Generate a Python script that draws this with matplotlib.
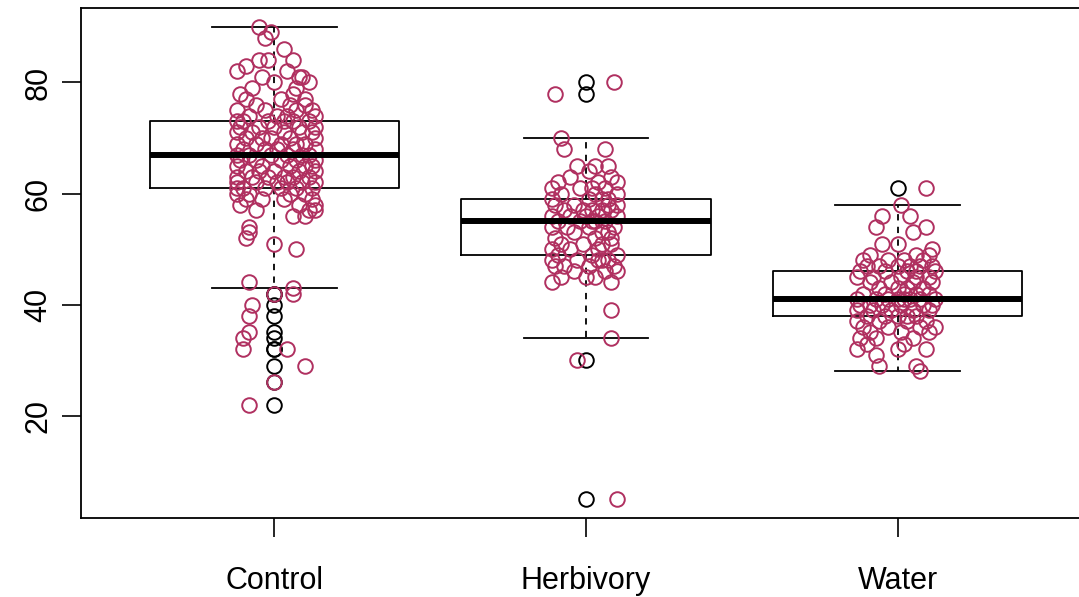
import math
import numpy as np
import matplotlib
matplotlib.use("Agg")
import matplotlib.pyplot as plt

groups = ["Control", "Herbivory", "Water"]

control_y = [90, 89, 88, 86, 84, 84, 84, 83, 82, 82, 81, 81, 81, 80, 80, 79, 79, 78, 78,
             77, 77, 77, 76, 76, 76, 75, 75, 75, 75, 74, 74, 74, 74,
             73, 73, 73, 73, 73, 73, 72, 72, 72, 72, 72, 71, 71, 71, 71, 71,
             70, 70, 70, 70, 70, 69, 69, 69, 69, 69, 68, 68, 68, 68, 68,
             67, 67, 67, 67, 67, 67, 66, 66, 66, 66, 66, 65, 65, 65, 65, 65,
             64, 64, 64, 64, 64, 63, 63, 63, 63, 63, 63, 62, 62, 62, 62, 62, 62,
             61, 61, 61, 61, 61, 61, 60, 60, 60, 60, 59, 59, 59, 59, 58, 58, 58,
             57, 57, 57, 56, 56, 54, 53, 52, 51, 50, 44, 43, 42, 42, 40, 38, 35, 34,
             32, 32, 29, 26, 22]
control_dx = [-5, -1, -3, 3, 6, -2, -5, -9, 4, -12, 9, 8, -4, 0, 11, 7, -7, 6, -11,
              -9, 10, 2, 10, -6, 5, -3, 12, 7, -12, 1, -8, 13, 4,
              -10, 6, -2, 11, 3, -12, 8, -5, 13, 0, -11, -7, 12, 3, -12, 9,
              5, -1, -9, 13, -4, 10, -12, 2, 7, -6, -3, 13, -10, 6, 1,
              -8, 11, 4, -12, 9, -1, 13, -6, 2, -11, 7, -4, 10, -12, 5, 12,
              0, -9, 8, 13, -5, -12, 3, 11, -2, 6, -7, 9, -12, 1, 13, -6, 4,
              -10, 7, -3, 12, -12, 2, -12, 10, 5, -8, -9, 3, 12, -4, -11, 8, 13,
              -6, 11, 13, 10, 6, -8, -8, -9, 0, 7, -8, 6, 6, 0, -7, -8, -8, -10,
              -10, 4, 10, 0, -8]

herb_y = [80, 78, 70, 68, 68, 65, 65, 65, 64, 63, 63, 62, 62, 62, 61, 61, 61, 61,
          60, 60, 60, 59, 59, 59, 59, 58, 58, 58, 58, 57, 57, 57, 57, 57,
          56, 56, 56, 56, 56, 55, 55, 55, 55, 55, 54, 54, 54, 54, 53, 53, 53,
          52, 52, 52, 51, 51, 51, 51, 50, 50, 50, 49, 49, 49,
          48, 48, 48, 48, 48, 47, 47, 47, 47, 46, 46, 46, 45, 45, 45, 44, 44,
          39, 34, 30, 5]
herb_dx = [9, -10, -8, -7, 6, -3, 3, 7, 1, 8, -5, -9, 4, 10, -11, -2, 6, 2,
           -8, 3, 10, 5, -11, 1, 7, -4, 10, -10, 7, 2, -7, 5, -1, 8,
           -11, 4, 10, -5, 0, 6, -9, 2, -2, 3, -6, 9, -11, 1, 5, -4, 7,
           -10, 3, 8, -1, 8, -8, 5, 4, -5, -11, 2, -9, 10,
           7, -3, 5, -11, 4, -7, 9, 1, -10, 6, -4, 10, -8, 3, 0, 8, -11,
           8, 8, -3, 10]

water_y = [61, 58, 56, 56, 54, 54, 53, 51, 51, 50, 49, 49, 49, 48, 48, 48, 48,
           47, 47, 47, 47, 47, 47, 46, 46, 46, 46, 46, 45, 45, 45, 45, 45,
           44, 44, 44, 44, 43, 43, 43, 43, 42, 42, 42, 42, 42,
           41, 41, 41, 41, 41, 41, 41, 41, 40, 40, 40, 40, 40, 40,
           39, 39, 39, 39, 39, 38, 38, 38, 38, 38, 37, 37, 37, 37,
           36, 36, 36, 36, 35, 35, 35, 34, 34, 34, 33, 33, 32, 32, 32, 31,
           29, 29, 28]
water_dx = [9, 1, -5, 4, -7, 9, 5, -5, 0, 11, 6, -9, 10, -3, 8, -11, 2,
            -10, 4, 11, -6, 0, 7, 3, -12, 6, -4, 12, -8, 6, 1, -13, 10,
            11, -2, -9, 5, -6, 8, 0, 3, 2, -11, 10, -4, 6,
            -13, 4, -7, 12, 0, 2, -3, 7, 8, -12, 1, -5, 11, -9,
            -2, 10, -13, 5, -8, 6, -10, 3, 0, -4, 9, -13, 3, -6,
            -11, 7, 12, -3, 1, -9, 10, -12, 5, -7, -10, 2, -13, 9, 0, -7,
            -6, 6, 7]

data_y = [control_y, herb_y, water_y]
data_dx = [control_dx, herb_dx, water_dx]


def fivenum(vals):
    x = np.sort(np.asarray(vals, dtype=float))
    n = len(x)
    n4 = math.floor((n + 3) / 2) / 2
    d = [1, n4, (n + 1) / 2, n + 1 - n4, n]
    return [0.5 * (x[math.floor(di) - 1] + x[math.ceil(di) - 1]) for di in d]


stats = []
for vals in data_y:
    a = np.asarray(vals, dtype=float)
    _, q1, med, q3, _ = fivenum(a)
    iqr = q3 - q1
    lo_f, hi_f = q1 - 1.5 * iqr, q3 + 1.5 * iqr
    inside = a[(a >= lo_f) & (a <= hi_f)]
    stats.append(dict(med=med, q1=q1, q3=q3, whislo=inside.min(), whishi=inside.max(),
                      fliers=a[(a < lo_f) | (a > hi_f)]))

W, H = 1079, 597
fig = plt.figure(figsize=(W / 100, H / 100), dpi=100)
left, right, top, bottom = 81, 1091, 8, 518
ax = fig.add_axes([left / W, (H - bottom) / H, (right - left) / W, (bottom - top) / H])

ax.bxp(stats, positions=[1, 2, 3], widths=0.8, capwidths=0.4, patch_artist=False,
       boxprops=dict(color="black", linewidth=1.3),
       medianprops=dict(color="black", linewidth=4.3, solid_capstyle="butt"),
       whiskerprops=dict(color="black", linewidth=1.3, linestyle=(0, (3.5, 3.5))),
       capprops=dict(color="black", linewidth=1.3),
       flierprops=dict(marker="o", markerfacecolor="none", markeredgecolor="black",
                       markersize=10.5, markeredgewidth=1.4, linestyle="none"),
       manage_ticks=False)

for i, (ys, dxs) in enumerate(zip(data_y, data_dx)):
    xs = [i + 1 + d / 100 for d in dxs]
    ax.plot(xs, ys, linestyle="none", marker="o", markerfacecolor="none",
            markeredgecolor="#B03060", markersize=10.5, markeredgewidth=1.4)

ax.set_xlim(0.38, 3.62)
ax.set_ylim(1.6, 93.4)
ax.set_xticks([1, 2, 3])
ax.set_xticklabels(groups, fontsize=22, fontfamily="Liberation Sans")
ax.set_yticks([20, 40, 60, 80])
ax.set_yticklabels(["20", "40", "60", "80"], fontsize=22, fontfamily="Liberation Sans",
                   rotation=90, va="center")
ax.tick_params(axis="both", direction="out", length=13.7, width=1.2, color="black")
ax.tick_params(axis="x", pad=21)
ax.tick_params(axis="y", pad=6)
for s in ax.spines.values():
    s.set_linewidth(1.3)

fig.savefig("out.png", dpi=100)
